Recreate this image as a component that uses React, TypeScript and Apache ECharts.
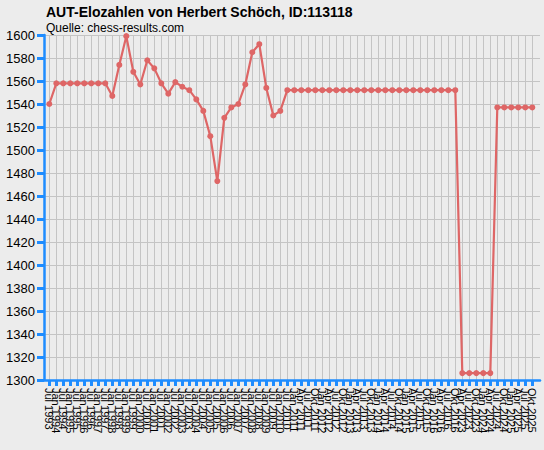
import React, { useEffect, useRef } from "react";
import * as echarts from "echarts";

const categories: string[] = [
  "Jul 1993", "Jan 1994", "Jul 1994", "Jan 1995", "Jul 1995", "Jan 1996", "Jul 1996", "Jan 1997",
  "Jul 1997", "Jan 1998", "Jul 1998", "Jan 1999", "Jul 1999", "Jan 2000", "Jul 2000", "Jan 2001",
  "Jul 2001", "Jan 2002", "Jul 2002", "Jan 2003", "Jul 2003", "Jan 2004", "Jul 2004", "Jan 2005",
  "Jul 2005", "Jan 2006", "Jul 2006", "Jan 2007", "Jul 2007", "Jan 2008", "Jul 2008", "Jan 2009",
  "Jul 2009", "Jan 2010", "Jul 2010", "Jan 2011",
  "Apr 2011", "Jul 2011", "Okt 2011", "Jan 2012", "Apr 2012", "Jul 2012", "Okt 2012", "Jan 2013",
  "Apr 2013", "Jul 2013", "Okt 2013", "Jan 2014", "Apr 2014", "Jul 2014", "Okt 2014", "Jan 2015",
  "Apr 2015", "Jul 2015", "Okt 2015", "Jan 2016", "Apr 2016", "Jul 2016", "Okt 2016",
  "Apr 2023", "Jul 2023", "Okt 2023", "Jan 2024", "Apr 2024", "Jul 2024", "Okt 2024", "Jan 2025",
  "Apr 2025", "Jul 2025", "Okt 2025",
];

const elo: number[] = [
  1540, 1558, 1558, 1558, 1558, 1558, 1558, 1558, 1558, 1547,
  1574, 1599, 1568, 1557, 1578, 1571, 1558, 1549, 1559, 1555,
  1552, 1544, 1534, 1512, 1473, 1528, 1537, 1540, 1557, 1585,
  1592, 1554, 1530, 1534, 1552, 1552, 1552, 1552, 1552, 1552,
  1552, 1552, 1552, 1552, 1552, 1552, 1552, 1552, 1552, 1552,
  1552, 1552, 1552, 1552, 1552, 1552, 1552, 1552, 1552, 1306,
  1306, 1306, 1306, 1306, 1537, 1537, 1537, 1537, 1537, 1537,
];

const yMin = 1300;
const yMax = 1600;
const yStep = 20;

const BLUE = "#1e8cff";
const GRID = "#c4c4c4";
const LINE = "#de6666";
const FONT = "Liberation Sans, Arial, sans-serif";

export default function App() {
  const ref = useRef<HTMLDivElement>(null);

  useEffect(() => {
    document.body.style.margin = "0";
    const chart = echarts.init(ref.current!, null, { renderer: "svg" });
    chart.setOption({
      animation: false,
      backgroundColor: "#ececec",
      title: {
        text: "AUT-Elozahlen von Herbert Schöch, ID:113118",
        subtext: "Quelle: chess-results.com",
        left: 41,
        top: 0,
        itemGap: 3,
        textStyle: { fontFamily: FONT, fontSize: 14, fontWeight: "bold", color: "#000" },
        subtextStyle: { fontFamily: FONT, fontSize: 12, color: "#000" },
      },
      grid: [
        { left: 49.3, right: 11.7, top: 35, bottom: 70 },
        { left: 44, right: 4, top: 35, bottom: 70 },
      ],
      xAxis: [
        {
          type: "category",
          gridIndex: 0,
          data: categories,
          boundaryGap: false,
          axisLine: { show: false },
          axisTick: { show: true, interval: 0, length: 6, lineStyle: { color: BLUE, width: 3 } },
          axisLabel: {
            interval: 0,
            rotate: -90,
            margin: 8,
            fontFamily: FONT,
            fontSize: 11,
            color: "#000",
          },
          splitLine: { show: true, interval: 0, lineStyle: { color: GRID, width: 1 } },
        },
        {
          type: "value",
          gridIndex: 1,
          min: 0,
          max: 1,
          axisLine: { show: true, lineStyle: { color: BLUE, width: 2.5 } },
          axisTick: { show: false },
          axisLabel: { show: false },
          splitLine: { show: false },
        },
      ],
      yAxis: [
        {
          type: "value",
          gridIndex: 0,
          min: yMin,
          max: yMax,
          show: false,
          splitLine: { show: false },
        },
        {
          type: "value",
          gridIndex: 1,
          min: yMin,
          max: yMax,
          interval: yStep,
          axisLine: { show: true, lineStyle: { color: BLUE, width: 2.5 } },
          axisTick: { show: true, length: 7, lineStyle: { color: BLUE, width: 3 } },
          axisLabel: {
            margin: 9,
            fontFamily: FONT,
            fontSize: 13,
            color: "#000",
            formatter: (v: number) => String(v),
          },
          splitLine: { show: true, lineStyle: { color: GRID, width: 1 } },
        },
      ],
      series: [
        {
          type: "line",
          xAxisIndex: 0,
          yAxisIndex: 0,
          data: elo,
          symbol: "circle",
          symbolSize: 6,
          lineStyle: { color: LINE, width: 2.2 },
          itemStyle: { color: LINE },
          z: 5,
        },
      ],
    });
    return () => chart.dispose();
  }, []);

  return <div ref={ref} style={{ width: 544, height: 450 }} />;
}
